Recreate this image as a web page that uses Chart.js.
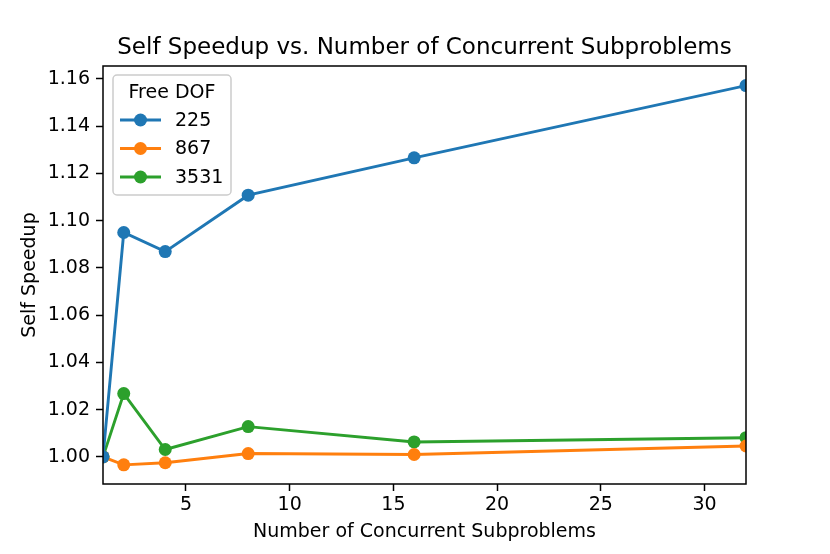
<!DOCTYPE html>
<html>
<head>
<meta charset="utf-8">
<script src="https://cdn.jsdelivr.net/npm/chart.js@4/dist/chart.umd.min.js"></script>
<style>
  html, body { margin: 0; padding: 0; background: #fff; }
  #wrap { width: 830px; height: 554px; }
</style>
</head>
<body>
<div id="wrap"><canvas id="chart" width="830" height="554"></canvas></div>
<script>
// concurrent subproblems (x) and self speedup per free DOF count
var subproblems = [1, 2, 4, 8, 16, 32];
var speedup225 = [1.000, 1.0950, 1.0869, 1.1108, 1.1266, 1.1572];
var speedup867 = [1.000, 0.9966, 0.9975, 1.0014, 1.0010, 1.0046];
var speedup3531 = [1.000, 1.0268, 1.0031, 1.0128, 1.0063, 1.0081];
var seriesNames = ['225', '867', '3531'];
var xTicks = [5, 10, 15, 20, 25, 30];
var yTicks = [1.00, 1.02, 1.04, 1.06, 1.08, 1.10, 1.12, 1.14, 1.16];

var FONT = '"DejaVu Sans", sans-serif';
var colors = ['#1f77b4', '#ff7f0e', '#2ca02c'];

function toPoints(ys) {
    return subproblems.map(function (x, i) { return { x: x, y: ys[i] }; });
}

function makeSet(name, ys, color) {
    return {
        label: name,
        data: toPoints(ys),
        borderColor: color,
        backgroundColor: color,
        borderWidth: 2.9,
        pointRadius: 6.5,
        pointHoverRadius: 6.5,
        pointBorderWidth: 0,
        tension: 0,
        clip: 0
    };
}

// frame, title and legend drawn the matplotlib way
var extras = {
    id: 'extras',
    afterDraw: function (chart) {
        var ctx = chart.ctx;
        var a = chart.chartArea;
        ctx.save();
        ctx.strokeStyle = '#000';
        ctx.lineWidth = 1.5;
        ctx.strokeRect(a.left, a.top, a.right - a.left, a.bottom - a.top);

        ctx.fillStyle = '#000';
        ctx.font = '23px ' + FONT;
        ctx.textAlign = 'center';
        ctx.textBaseline = 'alphabetic';
        ctx.fillText('Self Speedup vs. Number of Concurrent Subproblems', (a.left + a.right) / 2, 54);

        // legend box
        var bx = 113, by = 75, bw = 118, bh = 120, r = 4;
        ctx.beginPath();
        ctx.moveTo(bx + r, by);
        ctx.arcTo(bx + bw, by, bx + bw, by + bh, r);
        ctx.arcTo(bx + bw, by + bh, bx, by + bh, r);
        ctx.arcTo(bx, by + bh, bx, by, r);
        ctx.arcTo(bx, by, bx + bw, by, r);
        ctx.closePath();
        ctx.fillStyle = 'rgba(255,255,255,0.8)';
        ctx.fill();
        ctx.strokeStyle = '#cccccc';
        ctx.lineWidth = 1.5;
        ctx.stroke();

        ctx.fillStyle = '#000';
        ctx.font = '19px ' + FONT;
        ctx.textAlign = 'center';
        ctx.textBaseline = 'middle';
        ctx.fillText('Free DOF', 172, 93);

        chart.data.datasets.forEach(function (ds, i) {
            var y = 120 + i * 28.5;
            ctx.strokeStyle = ds.borderColor;
            ctx.lineWidth = 2.9;
            ctx.beginPath();
            ctx.moveTo(120, y);
            ctx.lineTo(161, y);
            ctx.stroke();
            ctx.fillStyle = ds.borderColor;
            ctx.beginPath();
            ctx.arc(140.5, y, 6.5, 0, Math.PI * 2);
            ctx.fill();
            ctx.fillStyle = '#000';
            ctx.textAlign = 'left';
            ctx.fillText(ds.label, 175, y + 1);
        });
        ctx.restore();
    }
};

new Chart(document.getElementById('chart'), {
    type: 'line',
    data: {
        datasets: [
            makeSet(seriesNames[0], speedup225, colors[0]),
            makeSet(seriesNames[1], speedup867, colors[1]),
            makeSet(seriesNames[2], speedup3531, colors[2])
        ]
    },
    options: {
        responsive: false,
        animation: false,
        devicePixelRatio: 1,
        layout: { padding: { left: 0, right: 84, top: 66, bottom: 0 } },
        plugins: {
            legend: { display: false },
            title: { display: false },
            tooltip: { enabled: false }
        },
        scales: {
            x: {
                type: 'linear',
                min: 1,
                max: 32,
                afterFit: function (s) { s.height = 70; },
                afterBuildTicks: function (s) {
                    s.ticks = xTicks.map(function (v) { return { value: v }; });
                },
                grid: {
                    drawOnChartArea: false,
                    drawTicks: true,
                    tickLength: 7,
                    tickWidth: 1.5,
                    tickColor: '#000'
                },
                border: { display: false },
                ticks: {
                    color: '#000',
                    padding: 3,
                    maxRotation: 0,
                    font: { family: FONT, size: 19 },
                    callback: function (v) { return String(v); }
                },
                title: {
                    display: true,
                    text: 'Number of Concurrent Subproblems',
                    color: '#000',
                    font: { family: FONT, size: 19 },
                    padding: { top: 0, bottom: 11 }
                }
            },
            y: {
                type: 'linear',
                min: 0.9885,
                max: 1.1655,
                afterFit: function (s) { s.width = 103; },
                afterBuildTicks: function (s) {
                    s.ticks = yTicks.map(function (v) { return { value: v }; });
                },
                grid: {
                    drawOnChartArea: false,
                    drawTicks: true,
                    tickLength: 7,
                    tickWidth: 1.5,
                    tickColor: '#000'
                },
                border: { display: false },
                ticks: {
                    color: '#000',
                    padding: 6,
                    font: { family: FONT, size: 19 },
                    callback: function (v) { return v.toFixed(2); }
                },
                title: {
                    display: true,
                    text: 'Self Speedup',
                    color: '#000',
                    font: { family: FONT, size: 19 },
                    padding: { top: 19, bottom: 0 }
                }
            }
        }
    },
    plugins: [extras]
});
</script>
</body>
</html>
